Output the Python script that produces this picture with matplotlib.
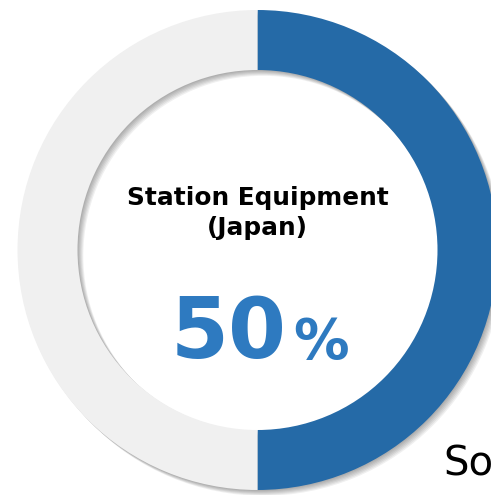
import matplotlib
matplotlib.use("Agg")
import matplotlib.pyplot as plt
from matplotlib.patches import Wedge
import matplotlib.patheffects as pe

# Share of station equipment market (Japan)
labels = ["Share", "Others"]
shares = [50, 50]
colors = ["#256AA7", "#F0F0F0"]
title_lines = ["Station Equipment", "(Japan)"]
value_text = "50"
unit_text = "%"
source_text = "Source"

W, H = 491, 495
fig = plt.figure(figsize=(W / 100, H / 100), dpi=100)
ax = fig.add_axes([0, 0, 1, 1])
ax.set_xlim(0, W)
ax.set_ylim(0, H)
ax.set_aspect("equal")
ax.axis("off")

cx, cy = 257.5, 245
r_out, ring = 240, 60

# soft drop shadow under the ring
shadow = Wedge((cx, cy), r_out, 0, 360, width=ring, facecolor="none",
               edgecolor="none", zorder=1)
shadow.set_path_effects([
    pe.SimplePatchShadow(offset=(o, -o), shadow_rgbFace="black", alpha=0.06)
    for o in (0.7, 1.4, 2.1, 2.8, 3.5, 4.2)
])
ax.add_patch(shadow)

wedges, _ = ax.pie(shares, colors=colors, startangle=90, counterclock=False,
                   center=(cx, cy), radius=r_out, frame=True,
                   wedgeprops=dict(width=ring, edgecolor="none"))
for w in wedges:
    w.set_zorder(2)
ax.set_xlim(0, W)
ax.set_ylim(0, H)
ax.axis("off")

ax.text(cx, 290, title_lines[0], ha="center", va="baseline",
        fontsize=17.8, fontweight="bold", color="black", zorder=3)
ax.text(cx, 260, title_lines[1], ha="center", va="baseline",
        fontsize=17.8, fontweight="bold", color="black", zorder=3)

ax.text(287, 137, value_text, ha="right", va="baseline",
        fontsize=60, fontweight="bold", color="#2E7AC0", zorder=3)
ax.text(293, 137, unit_text, ha="left", va="baseline",
        fontsize=40, fontweight="bold", color="#2E7AC0", zorder=3)

ax.text(443, 20, source_text, ha="left", va="baseline",
        fontsize=29, color="black", zorder=3)

fig.savefig("out.png", dpi=100, facecolor="white")
